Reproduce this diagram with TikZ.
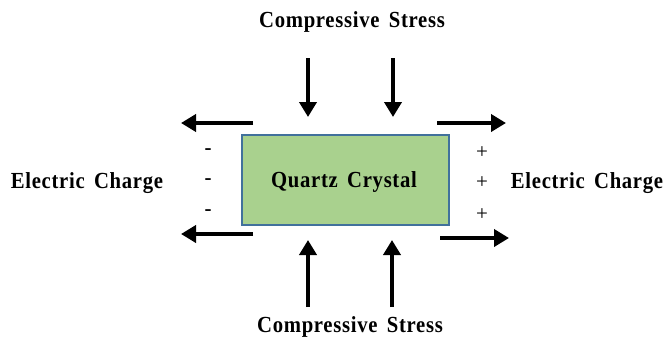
\documentclass[tikz,border=0pt]{standalone}
\usepackage{fontspec}
\setmainfont{Liberation Serif}
\newfontfamily\lblfont[LetterSpace=3,WordSpace=1.6,FakeStretch=0.9]{Liberation Serif}
\usetikzlibrary{arrows.meta}
\definecolor{boxfill}{HTML}{A9D18E}
\definecolor{boxline}{HTML}{41719C}
\tikzset{
  lbl/.style={font=\lblfont\bfseries\fontsize{23}{26}\selectfont, inner sep=0pt},
  sign/.style={font=\fontsize{21}{24}\selectfont, inner sep=0pt},
  crystal/.style={draw=boxline, line width=1.4pt, fill=boxfill, minimum width=207pt, minimum height=90pt, inner sep=0pt},
  bigarrow/.style={line width=4.5pt, -{Triangle[width=17pt,length=15pt]}}
}
\begin{document}
\begin{tikzpicture}[x=1pt,y=-1pt]
\useasboundingbox (0,0) rectangle (672,338);
\node[crystal] (qc) at (345.5,180) {};
\node[lbl] (qct) at (344,182) {Quartz Crystal};
\node[lbl] (ts) at (352,22) {Compressive Stress};
\node[lbl] (bs) at (350,327) {Compressive Stress};
\node[lbl] (le) at (87,183) {Electric Charge};
\node[lbl] (re) at (587,183) {Electric Charge};
\node[sign] (m1) at (208,152) {\bfseries -};
\node[sign] (m2) at (208,182) {\bfseries -};
\node[sign] (m3) at (208,213) {\bfseries -};
\node[sign] (p1) at (482,153) {+};
\node[sign] (p2) at (482,183) {+};
\node[sign] (p3) at (482,215) {+};
% top arrows
\coordinate (t1a) at (308,58); \coordinate (t1b) at (308,117);
\coordinate (t2a) at (393,58); \coordinate (t2b) at (393,117);
\draw[bigarrow] (t1a) -- (t1b);
\draw[bigarrow] (t2a) -- (t2b);
% bottom arrows
\coordinate (b1a) at (308,307); \coordinate (b1b) at (308,240);
\coordinate (b2a) at (392,307); \coordinate (b2b) at (392,240);
\draw[bigarrow] (b1a) -- (b1b);
\draw[bigarrow] (b2a) -- (b2b);
% left arrows
\coordinate (l1a) at (253,123); \coordinate (l1b) at (181,123);
\coordinate (l2a) at (253,234); \coordinate (l2b) at (181,234);
\draw[bigarrow] (l1a) -- (l1b);
\draw[bigarrow] (l2a) -- (l2b);
% right arrows
\coordinate (r1a) at (437,123); \coordinate (r1b) at (506,123);
\coordinate (r2a) at (440,238); \coordinate (r2b) at (509,238);
\draw[bigarrow] (r1a) -- (r1b);
\draw[bigarrow] (r2a) -- (r2b);
\end{tikzpicture}
\end{document}
